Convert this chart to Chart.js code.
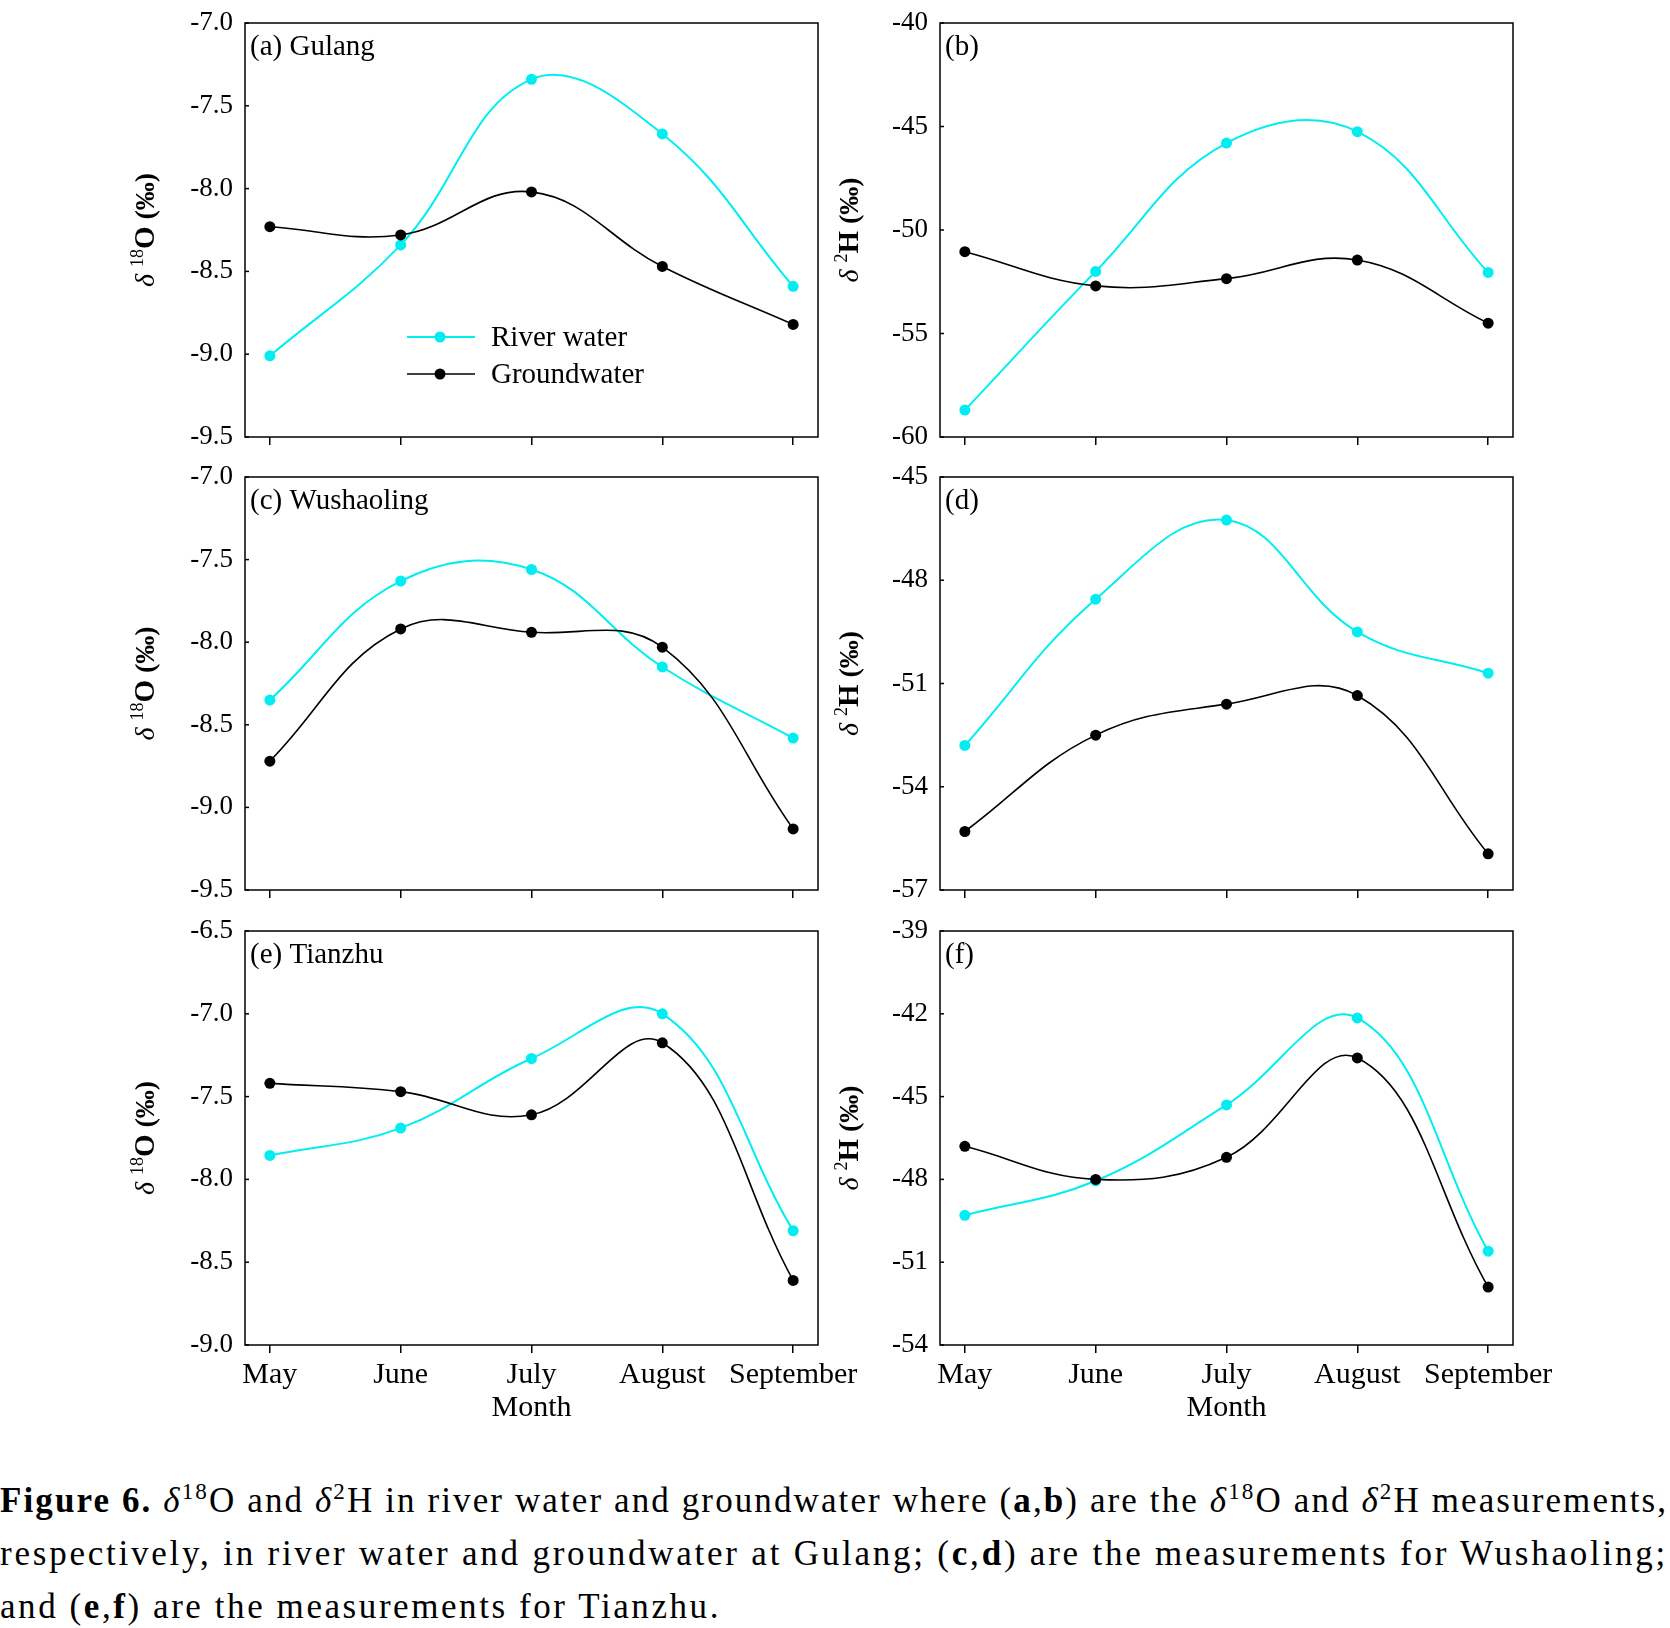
<!DOCTYPE html>
<html>
<head>
<meta charset="utf-8">
<script src="https://cdn.jsdelivr.net/npm/chart.js@4.4.1/dist/chart.umd.min.js"></script>
<style>
html,body{margin:0;padding:0;background:#fff;width:1670px;height:1628px;overflow:hidden;position:relative;}
canvas{position:absolute;}
#caption{position:absolute;left:0;top:1474px;width:1670px;font-family:"Liberation Serif",serif;font-size:35px;line-height:53px;color:#000;}
#caption .row{height:53px;white-space:nowrap;}
#caption .ln{display:inline-block;white-space:nowrap;}
#caption sup{font-size:0.66em;line-height:0;vertical-align:0.55em;}
</style>
</head>
<body>
<canvas id="ca" width="770" height="460" style="left:100px;top:0px"></canvas>
<canvas id="cb" width="800" height="460" style="left:800px;top:0px"></canvas>
<canvas id="cc" width="770" height="463" style="left:100px;top:450px"></canvas>
<canvas id="cd" width="800" height="463" style="left:800px;top:450px"></canvas>
<canvas id="ce" width="770" height="540" style="left:100px;top:900px"></canvas>
<canvas id="cf" width="800" height="540" style="left:800px;top:900px"></canvas>

<div id="caption">
<div class="row"><span class="ln" data-w="1668"><b>Figure 6.</b> <i>δ</i><sup>18</sup>O and <i>δ</i><sup>2</sup>H in river water and groundwater where (<b>a</b>,<b>b</b>) are the <i>δ</i><sup>18</sup>O and <i>δ</i><sup>2</sup>H measurements,</span></div>
<div class="row"><span class="ln" data-w="1668">respectively, in river water and groundwater at Gulang; (<b>c</b>,<b>d</b>) are the measurements for Wushaoling;</span></div>
<div class="row"><span class="ln" data-w="721">and (<b>e</b>,<b>f</b>) are the measurements for Tianzhu.</span></div>
</div>

<script>
// ---- data ----
const months = ['May', 'June', 'July', 'August', 'September'];

const riverA  = [-9.01, -8.34, -7.34, -7.67, -8.59];
const groundA = [-8.23, -8.28, -8.02, -8.47, -8.82];

const riverB  = [-58.7, -52.0, -45.8, -45.25, -52.05];
const groundB = [-51.05, -52.7, -52.35, -51.45, -54.5];

const riverC  = [-8.35, -7.63, -7.56, -8.15, -8.58];
const groundC = [-8.72, -7.92, -7.94, -8.03, -9.13];

const riverD  = [-52.8, -48.55, -46.25, -49.5, -50.7];
const groundD = [-55.3, -52.5, -51.6, -51.35, -55.95];

const riverE  = [-7.855, -7.69, -7.27, -7.0, -8.31];
const groundE = [-7.42, -7.47, -7.61, -7.175, -8.61];

const riverF  = [-49.3, -48.05, -45.3, -42.15, -50.6];
const groundF = [-46.8, -48.0, -47.2, -43.6, -51.9];

const ticksA = [-9.5, -9.0, -8.5, -8.0, -7.5, -7.0];
const ticksB = [-60, -55, -50, -45, -40];
const ticksC = [-9.5, -9.0, -8.5, -8.0, -7.5, -7.0];
const ticksD = [-57, -54, -51, -48, -45];
const ticksE = [-9.0, -8.5, -8.0, -7.5, -7.0, -6.5];
const ticksF = [-54, -51, -48, -45, -42, -39];

const seriesNames = ['River water', 'Groundwater'];
const panelLabels = ['(a) Gulang', '(b)', '(c) Wushaoling', '(d)', '(e) Tianzhu', '(f)'];
const xTitle = 'Month';

// ---- styling ----
const FONT = '"Liberation Serif", "Times New Roman", serif';
const CYAN = '#00EEF2';
const BLACK = '#000000';

function yTitle(ctx, cx, cy, iso, elem) {
  const segs = [
    {t: 'δ', f: 'italic 28px ' + FONT, dy: 0},
    {t: ' ', f: '28px ' + FONT, dy: 0},
    {t: iso, f: '18px ' + FONT, dy: -11},
    {t: elem, f: 'bold 29px ' + FONT, dy: 0},
    {t: ' (‰)', f: 'bold 28px ' + FONT, dy: 0}
  ];
  ctx.save();
  let total = 0;
  segs.forEach(s => { ctx.font = s.f; s.w = ctx.measureText(s.t).width; total += s.w; });
  ctx.translate(cx, cy);
  ctx.rotate(-Math.PI / 2);
  ctx.fillStyle = '#000';
  ctx.textBaseline = 'alphabetic';
  ctx.textAlign = 'left';
  let x = -total / 2;
  segs.forEach(s => { ctx.font = s.f; ctx.fillText(s.t, x, 10 + s.dy); x += s.w; });
  ctx.restore();
}

function makeChart(cfg) {
  const el = document.getElementById(cfg.id);
  const deco = {
    id: 'deco' + cfg.id,
    afterDraw(chart) {
      const ctx = chart.ctx, a = chart.chartArea;
      ctx.save();
      ctx.strokeStyle = '#000';
      ctx.lineWidth = 1.5;
      ctx.strokeRect(a.left, a.top, a.right - a.left, a.bottom - a.top);
      const ys = chart.scales.y;
      ys.ticks.forEach(t => {
        const py = ys.getPixelForValue(t.value);
        ctx.beginPath(); ctx.moveTo(a.left, py); ctx.lineTo(a.left + 4, py); ctx.stroke();
      });
      // panel label
      ctx.fillStyle = '#000';
      ctx.font = '29px ' + FONT;
      ctx.textAlign = 'left';
      ctx.textBaseline = 'alphabetic';
      ctx.fillText(cfg.label, a.left + 5, a.top + 32);
      // y title
      yTitle(ctx, cfg.titleX, (a.top + a.bottom) / 2, cfg.iso, cfg.elem);
      // legend
      if (cfg.legend) {
        const items = [
          {name: seriesNames[0], color: CYAN, lw: 2},
          {name: seriesNames[1], color: BLACK, lw: 1.6}
        ];
        items.forEach((it, i) => {
          const y = a.top + 314 + i * 37;
          ctx.strokeStyle = it.color; ctx.lineWidth = it.lw;
          ctx.beginPath(); ctx.moveTo(a.left + 162, y); ctx.lineTo(a.left + 230, y); ctx.stroke();
          ctx.fillStyle = it.color;
          ctx.beginPath(); ctx.arc(a.left + 195, y, 5.5, 0, Math.PI * 2); ctx.fill();
          ctx.fillStyle = '#000';
          ctx.font = '29px ' + FONT;
          ctx.textBaseline = 'middle';
          ctx.fillText(it.name, a.left + 246, y + 1);
        });
      }
      ctx.restore();
    }
  };
  return new Chart(el, {
    type: 'line',
    data: {
      datasets: [
        {label: seriesNames[1], data: cfg.ground.map((v, i) => ({x: i, y: v})),
         borderColor: BLACK, backgroundColor: BLACK, pointBackgroundColor: BLACK, pointBorderColor: BLACK,
         borderWidth: 1.6, pointRadius: 5.5, pointBorderWidth: 0, tension: 0.4},
        {label: seriesNames[0], data: cfg.river.map((v, i) => ({x: i, y: v})),
         borderColor: CYAN, backgroundColor: CYAN, pointBackgroundColor: CYAN, pointBorderColor: CYAN,
         borderWidth: 2, pointRadius: 5.5, pointBorderWidth: 0, tension: 0.4}
      ]
    },
    options: {
      responsive: false,
      animation: false,
      devicePixelRatio: 1,
      layout: {padding: {left: 0, right: cfg.padRight, top: cfg.areaTop, bottom: 0}},
      plugins: {legend: {display: false}, tooltip: {enabled: false}},
      scales: {
        x: {
          type: 'linear', min: -0.19, max: 4.19,
          afterBuildTicks: s => { s.ticks = months.map((m, i) => ({value: i})); },
          afterFit: s => { s.height = cfg.xH; },
          ticks: {display: cfg.showX, autoSkip: false, maxRotation: 0, padding: 4, color: '#000',
                  font: {family: FONT, size: 30}, callback: v => months[v]},
          grid: {display: true, drawOnChartArea: false, drawTicks: true, tickLength: 8, color: '#000', lineWidth: 1.5},
          border: {display: false},
          title: {display: cfg.showX, text: xTitle, color: '#000', font: {family: FONT, size: 30},
                  padding: {top: 0, bottom: 14}}
        },
        y: {
          type: 'linear', min: cfg.ticks[0], max: cfg.ticks[cfg.ticks.length - 1],
          afterBuildTicks: s => { s.ticks = cfg.ticks.map(v => ({value: v})); },
          afterFit: s => { s.width = cfg.areaLeft; },
          ticks: {padding: 0, color: '#000', font: {family: FONT, size: 27},
                  callback: v => cfg.elem === 'O' ? v.toFixed(1) : String(Math.round(v))},
          grid: {display: true, drawOnChartArea: false, drawTicks: true, tickLength: 12, color: 'rgba(0,0,0,0)'},
          border: {display: false}
        }
      }
    },
    plugins: [deco]
  });
}

const L = {areaLeft: 145, padRight: 52, titleX: 44};
const R = {areaLeft: 140, padRight: 87, titleX: 48};

makeChart(Object.assign({id: 'ca', river: riverA, ground: groundA, ticks: ticksA, label: panelLabels[0], iso: '18', elem: 'O', areaTop: 23, xH: 23, showX: false, legend: true}, L));
makeChart(Object.assign({id: 'cb', river: riverB, ground: groundB, ticks: ticksB, label: panelLabels[1], iso: '2', elem: 'H', areaTop: 23, xH: 23, showX: false}, R));
makeChart(Object.assign({id: 'cc', river: riverC, ground: groundC, ticks: ticksC, label: panelLabels[2], iso: '18', elem: 'O', areaTop: 27, xH: 23, showX: false}, L));
makeChart(Object.assign({id: 'cd', river: riverD, ground: groundD, ticks: ticksD, label: panelLabels[3], iso: '2', elem: 'H', areaTop: 27, xH: 23, showX: false}, R));
makeChart(Object.assign({id: 'ce', river: riverE, ground: groundE, ticks: ticksE, label: panelLabels[4], iso: '18', elem: 'O', areaTop: 31, xH: 95, showX: true}, L));
makeChart(Object.assign({id: 'cf', river: riverF, ground: groundF, ticks: ticksF, label: panelLabels[5], iso: '2', elem: 'H', areaTop: 31, xH: 95, showX: true}, R));

// fit caption lines to the reference line widths
document.querySelectorAll('#caption .ln').forEach(el => {
  const target = +el.dataset.w;
  const n = el.textContent.length;
  const w = el.getBoundingClientRect().width;
  el.style.letterSpacing = ((target - w) / n).toFixed(3) + 'px';
});
</script>
</body>
</html>
